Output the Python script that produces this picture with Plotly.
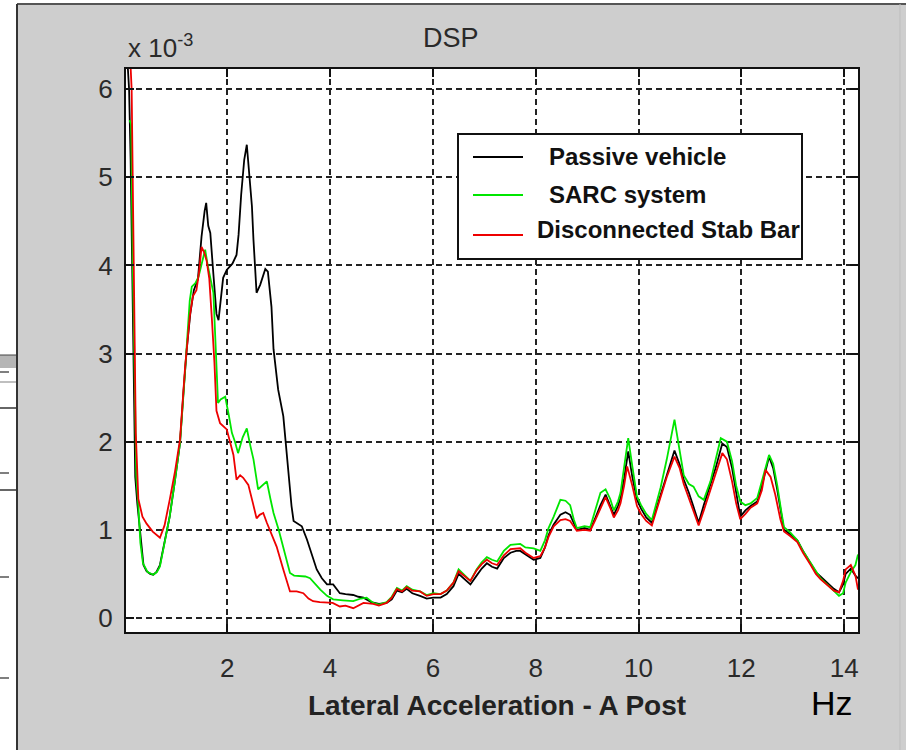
import plotly.graph_objects as go

# ---------------- data (PSD values in units of 1e-3, frequency in Hz) ----------------
passive_hz = [0.04, 0.09, 0.12, 0.15, 0.18, 0.21, 0.25, 0.29, 0.33, 0.37, 0.43, 0.50, 0.56, 0.62, 0.69, 0.78,
              0.88, 0.98, 1.08, 1.15, 1.21, 1.28, 1.35, 1.43, 1.50, 1.56, 1.59, 1.63, 1.67, 1.73, 1.79, 1.83,
              1.87, 1.92, 1.99, 2.10, 2.18, 2.22, 2.27, 2.33, 2.38, 2.43, 2.48, 2.51, 2.57, 2.64, 2.74, 2.79,
              2.86, 2.90, 2.99, 3.09, 3.16, 3.25, 3.29, 3.38, 3.45, 3.55, 3.65, 3.74, 3.84, 3.94, 4.06, 4.19,
              4.30, 4.45, 4.55, 4.65, 4.80, 4.95, 5.10, 5.20, 5.30, 5.40, 5.49, 5.60, 5.75, 5.88, 6.01, 6.15,
              6.27, 6.40, 6.50, 6.60, 6.73, 6.85, 6.95, 7.05, 7.15, 7.25, 7.38, 7.51, 7.62, 7.70, 7.80, 7.96,
              8.09, 8.18, 8.25, 8.35, 8.48, 8.58, 8.67, 8.74, 8.80, 8.95, 9.06, 9.15, 9.26, 9.36, 9.45, 9.52,
              9.60, 9.65, 9.72, 9.80, 9.88, 9.97, 10.05, 10.15, 10.26, 10.35, 10.43, 10.55, 10.70, 10.80, 10.88,
              10.98, 11.07, 11.17, 11.27, 11.40, 11.50, 11.63, 11.72, 11.82, 11.90, 11.98, 12.08, 12.18, 12.31,
              12.40, 12.54, 12.62, 12.70, 12.78, 12.83, 12.95, 13.09, 13.20, 13.35, 13.45, 13.54, 13.67, 13.80,
              13.90, 13.98, 14.03, 14.13, 14.22, 14.27]
passive_psd = [6.5, 6.0, 5.2, 3.9, 2.4, 1.6, 1.3, 1.05, 0.78, 0.60, 0.53, 0.50, 0.49, 0.52, 0.60, 0.86,
               1.15, 1.55, 1.98, 2.58, 3.04, 3.45, 3.72, 3.85, 4.33, 4.62, 4.71, 4.45, 4.37, 3.90, 3.45, 3.38,
               3.62, 3.86, 3.95, 4.02, 4.12, 4.35, 4.80, 5.20, 5.37, 5.05, 4.67, 4.29, 3.69, 3.78, 3.96, 3.93,
               3.53, 3.05, 2.59, 2.29, 1.80, 1.27, 1.10, 1.07, 1.04, 0.89, 0.70, 0.55, 0.45, 0.38, 0.38, 0.28,
               0.27, 0.26, 0.24, 0.23, 0.18, 0.16, 0.17, 0.21, 0.31, 0.29, 0.33, 0.28, 0.25, 0.22, 0.23, 0.23,
               0.27, 0.36, 0.50, 0.45, 0.38, 0.48, 0.56, 0.62, 0.58, 0.56, 0.68, 0.74, 0.76, 0.76, 0.72, 0.66,
               0.68, 0.80, 0.94, 1.06, 1.17, 1.20, 1.17, 1.07, 1.00, 1.02, 1.00, 1.12, 1.28, 1.40, 1.28, 1.17,
               1.27, 1.36, 1.58, 1.89, 1.60, 1.34, 1.24, 1.14, 1.08, 1.25, 1.42, 1.62, 1.90, 1.74, 1.57,
               1.42, 1.26, 1.08, 1.28, 1.52, 1.70, 1.98, 1.94, 1.70, 1.40, 1.15, 1.22, 1.27, 1.32,
               1.50, 1.83, 1.70, 1.45, 1.15, 1.00, 0.95, 0.88, 0.76, 0.62, 0.52, 0.47, 0.40, 0.33,
               0.29, 0.38, 0.50, 0.56, 0.48, 0.45]

sarc_hz = [0.10, 0.13, 0.16, 0.19, 0.23, 0.27, 0.31, 0.36, 0.45, 0.56, 0.63, 0.69, 0.78, 0.88, 0.98, 1.08,
           1.15, 1.21, 1.27, 1.31, 1.38, 1.44, 1.50, 1.57, 1.62, 1.68, 1.73, 1.78, 1.82, 1.87, 1.96, 2.03,
           2.09, 2.15, 2.21, 2.30, 2.38, 2.45, 2.51, 2.60, 2.68, 2.77, 2.84, 2.90, 3.00, 3.09, 3.16, 3.22,
           3.30, 3.42, 3.52, 3.61, 3.71, 3.81, 3.94, 4.06, 4.25, 4.45, 4.60, 4.71, 4.84, 4.95, 5.10, 5.20,
           5.30, 5.40, 5.49, 5.60, 5.75, 5.88, 6.01, 6.15, 6.27, 6.40, 6.50, 6.60, 6.73, 6.85, 6.95, 7.05,
           7.15, 7.25, 7.38, 7.51, 7.62, 7.70, 7.80, 7.96, 8.09, 8.18, 8.25, 8.35, 8.48, 8.58, 8.67, 8.74,
           8.80, 8.95, 9.06, 9.15, 9.26, 9.36, 9.45, 9.52, 9.60, 9.65, 9.72, 9.80, 9.88, 9.97, 10.05, 10.15,
           10.26, 10.35, 10.43, 10.55, 10.70, 10.80, 10.88, 10.98, 11.07, 11.17, 11.27, 11.40, 11.50, 11.60,
           11.72, 11.82, 11.90, 11.98, 12.08, 12.18, 12.31, 12.40, 12.54, 12.62, 12.70, 12.78, 12.83, 12.95,
           13.09, 13.20, 13.35, 13.45, 13.54, 13.67, 13.80, 13.90, 13.98, 14.03, 14.13, 14.22, 14.27]
sarc_psd = [5.65, 5.60, 4.10, 2.80, 1.60, 1.27, 0.85, 0.62, 0.52, 0.49, 0.52, 0.585, 0.85, 1.15, 1.55, 1.98,
            2.55, 3.04, 3.60, 3.76, 3.80, 3.87, 4.00, 4.18, 4.00, 3.85, 3.69, 3.00, 2.44, 2.48, 2.51, 2.30,
            2.10, 2.00, 1.87, 2.05, 2.15, 1.95, 1.80, 1.46, 1.50, 1.55, 1.35, 1.19, 1.00, 0.81, 0.65, 0.51,
            0.48, 0.47, 0.47, 0.45, 0.38, 0.32, 0.25, 0.21, 0.20, 0.19, 0.22, 0.23, 0.17, 0.15, 0.18, 0.24,
            0.34, 0.31, 0.36, 0.32, 0.30, 0.26, 0.28, 0.27, 0.31, 0.40, 0.55, 0.49, 0.42, 0.55, 0.63, 0.69,
            0.66, 0.64, 0.76, 0.83, 0.84, 0.84, 0.80, 0.79, 0.76, 0.88, 1.02, 1.15, 1.34, 1.33, 1.28, 1.12,
            1.02, 1.04, 1.03, 1.20, 1.42, 1.46, 1.35, 1.22, 1.32, 1.42, 1.70, 2.04, 1.72, 1.38, 1.28, 1.18,
            1.11, 1.30, 1.48, 1.80, 2.25, 1.90, 1.62, 1.52, 1.49, 1.38, 1.34, 1.55, 1.78, 2.04,
            2.00, 1.78, 1.50, 1.32, 1.28, 1.30, 1.36, 1.55, 1.85, 1.75, 1.50, 1.20, 1.03, 0.97,
            0.88, 0.76, 0.62, 0.52, 0.45, 0.38, 0.30, 0.25, 0.28, 0.40, 0.52, 0.60, 0.72]

stab_hz = [0.04, 0.10, 0.14, 0.17, 0.20, 0.22, 0.27, 0.35, 0.43, 0.55, 0.69, 0.78, 0.88, 0.98, 1.08, 1.18,
           1.27, 1.33, 1.40, 1.45, 1.50, 1.55, 1.60, 1.65, 1.70, 1.75, 1.79, 1.86, 1.99, 2.05, 2.12, 2.18,
           2.25, 2.31, 2.41, 2.50, 2.57, 2.63, 2.70, 2.77, 2.83, 2.96, 3.09, 3.16, 3.22, 3.35, 3.48, 3.58,
           3.67, 3.80, 3.94, 4.05, 4.19, 4.30, 4.45, 4.55, 4.65, 4.84, 4.95, 5.10, 5.20, 5.30, 5.40, 5.49,
           5.60, 5.75, 5.88, 6.01, 6.15, 6.27, 6.40, 6.50, 6.60, 6.73, 6.85, 6.95, 7.05, 7.15, 7.25, 7.38,
           7.51, 7.62, 7.70, 7.80, 7.96, 8.09, 8.18, 8.25, 8.35, 8.48, 8.58, 8.67, 8.74, 8.80, 8.95, 9.06,
           9.15, 9.26, 9.36, 9.45, 9.52, 9.60, 9.65, 9.72, 9.78, 9.88, 9.97, 10.05, 10.15, 10.26, 10.35,
           10.43, 10.55, 10.70, 10.80, 10.88, 10.98, 11.07, 11.17, 11.27, 11.40, 11.50, 11.63, 11.72, 11.82,
           11.90, 11.98, 12.08, 12.18, 12.31, 12.40, 12.47, 12.57, 12.66, 12.76, 12.83, 12.95, 13.09, 13.20,
           13.35, 13.45, 13.54, 13.67, 13.80, 13.90, 13.98, 14.03, 14.13, 14.22, 14.27]
stab_psd = [6.8, 6.5, 6.0, 4.6, 3.2, 2.1, 1.35, 1.15, 1.07, 0.98, 0.91, 1.05, 1.34, 1.65, 2.02, 2.85,
            3.42, 3.65, 3.72, 3.92, 4.21, 4.15, 4.05, 3.85, 3.40, 2.90, 2.35, 2.21, 2.14, 2.02, 1.85, 1.57,
            1.62, 1.59, 1.51, 1.30, 1.13, 1.17, 1.19, 1.08, 1.00, 0.81, 0.55, 0.40, 0.30, 0.30, 0.28, 0.22,
            0.19, 0.18, 0.17, 0.17, 0.13, 0.14, 0.11, 0.14, 0.17, 0.16, 0.14, 0.17, 0.23, 0.33, 0.30, 0.35,
            0.31, 0.30, 0.25, 0.27, 0.27, 0.31, 0.40, 0.53, 0.48, 0.42, 0.54, 0.61, 0.66, 0.62, 0.60, 0.71,
            0.78, 0.79, 0.79, 0.74, 0.68, 0.70, 0.80, 0.92, 1.04, 1.11, 1.12, 1.10, 1.04, 0.99, 1.00, 0.99,
            1.10, 1.25, 1.37, 1.25, 1.14, 1.22, 1.30, 1.50, 1.72, 1.50, 1.27, 1.18, 1.10, 1.05, 1.22,
            1.40, 1.60, 1.83, 1.70, 1.52, 1.35, 1.20, 1.05, 1.22, 1.45, 1.62, 1.87, 1.80, 1.55,
            1.30, 1.12, 1.18, 1.25, 1.30, 1.45, 1.68, 1.60, 1.40, 1.12, 0.98, 0.93, 0.86, 0.74,
            0.60, 0.50, 0.44, 0.38, 0.31, 0.29, 0.42, 0.55, 0.60, 0.48, 0.32]

series_names = ["Passive vehicle", "SARC system", "Disconnected Stab Bar"]
series_colors = ["#000000", "#00e600", "#ee0000"]
x_ticks = [2, 4, 6, 8, 10, 12, 14]
y_ticks = [0, 1, 2, 3, 4, 5, 6]

# ---------------- layout geometry ----------------
W, H = 906, 750
L, R, T, B = 126, 858, 69, 632  # plot area in pixels
XR = [0.03, 14.27]
YR = [-0.16, 6.23]


def px(x):
    return (x - L) / (R - L)


def py(y):
    return (B - y) / (B - T)


fig = go.Figure()
for hz, val, name, col in zip([passive_hz, sarc_hz, stab_hz], [passive_psd, sarc_psd, stab_psd],
                              series_names, series_colors):
    fig.add_trace(go.Scatter(x=hz, y=val, mode="lines", name=name,
                             line=dict(color=col, width=1.8), showlegend=False))

font = "Liberation Sans, Arial, sans-serif"
axis_common = dict(
    showline=True, linecolor="#111", linewidth=2, mirror="ticks",
    ticks="inside", ticklen=8, tickwidth=2, tickcolor="#111",
    showgrid=True, gridcolor="#222", gridwidth=2, griddash="6px,4px",
    zeroline=False, tickfont=dict(family=font, size=26, color="#2a2a2a"),
)
fig.update_xaxes(range=XR, tickvals=x_ticks, ticklabelstandoff=12, **axis_common)
fig.update_yaxes(range=YR, tickvals=y_ticks, ticklabelstandoff=6, **axis_common)

shapes = []
# background pieces: white strip at left with fragment of another chart
shapes.append(dict(type="rect", xref="paper", yref="paper", x0=px(0), x1=px(17), y0=py(750), y1=py(0),
                   fillcolor="white", line=dict(width=0), layer="below"))
shapes.append(dict(type="rect", xref="paper", yref="paper", x0=px(17), x1=px(906), y0=py(4), y1=py(0),
                   fillcolor="white", line=dict(width=0), layer="below"))
shapes.append(dict(type="line", xref="paper", yref="paper", x0=px(17), x1=px(906), y0=py(4), y1=py(4),
                   line=dict(color="#555", width=2), layer="below"))
shapes.append(dict(type="line", xref="paper", yref="paper", x0=px(17), x1=px(17), y0=py(4), y1=py(750),
                   line=dict(color="#333", width=2), layer="below"))
shapes.append(dict(type="line", xref="paper", yref="paper", x0=px(900), x1=px(900), y0=py(4), y1=py(750),
                   line=dict(color="#bdbdbd", width=1), layer="below"))
shapes.append(dict(type="rect", xref="paper", yref="paper", x0=px(0), x1=px(16), y0=py(368), y1=py(355),
                   fillcolor="#b5b5b5", line=dict(width=0), layer="below"))
shapes.append(dict(type="line", xref="paper", yref="paper", x0=px(0), x1=px(16), y0=py(355), y1=py(355),
                   line=dict(color="#444", width=1), layer="below"))
for yy, dash, col in [(372, "dash", "#555"), (382, "solid", "#aaa"), (408, "solid", "#333"),
                      (473, "dash", "#555"), (490, "solid", "#333"), (577, "dash", "#555"),
                      (678, "dash", "#555")]:
    shapes.append(dict(type="line", xref="paper", yref="paper", x0=px(0), x1=px(16), y0=py(yy), y1=py(yy),
                       line=dict(color=col, width=1.5, dash=dash), layer="below"))

# legend box (drawn manually to match)
lg_x0, lg_x1, lg_y0, lg_y1 = 458, 802, 134, 259
shapes.append(dict(type="rect", xref="paper", yref="paper", x0=px(lg_x0), x1=px(lg_x1), y0=py(lg_y1), y1=py(lg_y0),
                   fillcolor="white", line=dict(color="#111", width=2), layer="above"))
row_line_y = [157, 195, 235]
row_text_y = [156, 194, 230]
row_text_x = [547, 547, 535]
for ly, col in zip(row_line_y, series_colors):
    shapes.append(dict(type="line", xref="paper", yref="paper", x0=px(473), x1=px(523), y0=py(ly), y1=py(ly),
                       line=dict(color=col, width=1.8), layer="above"))

annotations = []
for tx, ty, name in zip(row_text_x, row_text_y, series_names):
    annotations.append(dict(xref="paper", yref="paper", x=px(tx), y=py(ty), xanchor="left", yanchor="middle",
                            text="<b>%s</b>" % name, showarrow=False,
                            font=dict(family=font, size=24, color="#111")))
annotations.append(dict(xref="paper", yref="paper", x=px(451), y=py(38), xanchor="center", yanchor="middle",
                        text="DSP", showarrow=False, font=dict(family=font, size=27, color="#2a2a2a")))
annotations.append(dict(xref="paper", yref="paper", x=px(126), y=py(47), xanchor="left", yanchor="middle",
                        text="x 10<sup>-3</sup>", showarrow=False, font=dict(family=font, size=26, color="#2a2a2a")))
annotations.append(dict(xref="paper", yref="paper", x=px(497), y=py(705), xanchor="center", yanchor="middle",
                        text="<b>Lateral Acceleration - A Post</b>", showarrow=False,
                        font=dict(family=font, size=28, color="#222")))
annotations.append(dict(xref="paper", yref="paper", x=px(832), y=py(703), xanchor="center", yanchor="middle",
                        text="Hz", showarrow=False, font=dict(family=font, size=34, color="#000")))

fig.update_layout(
    width=W, height=H,
    margin=dict(l=L, r=W - R, t=T, b=H - B, pad=0),
    paper_bgcolor="#cecece", plot_bgcolor="white",
    shapes=shapes, annotations=annotations,
    showlegend=False,
)

fig.write_html("out.html")
